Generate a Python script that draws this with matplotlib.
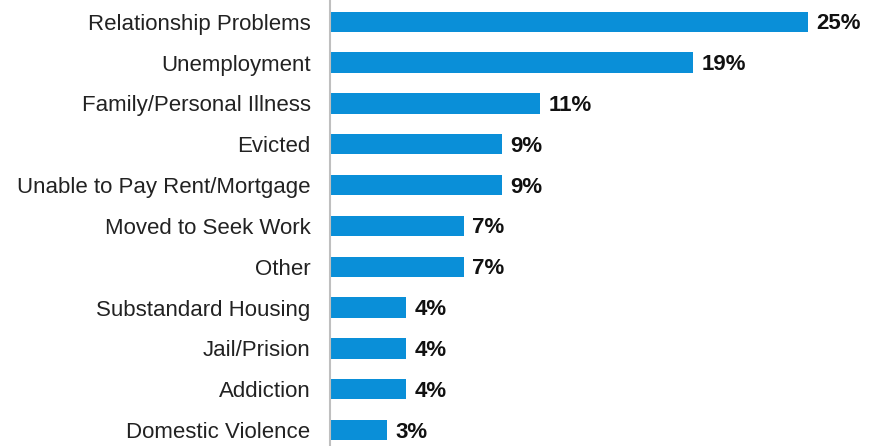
import matplotlib.pyplot as plt

categories = ['Relationship Problems', 'Unemployment', 'Family/Personal Illness',
              'Evicted', 'Unable to Pay Rent/Mortgage', 'Moved to Seek Work',
              'Other', 'Substandard Housing', 'Jail/Prision', 'Addiction',
              'Domestic Violence']
values = [25, 19, 11, 9, 9, 7, 7, 4, 4, 4, 3]
value_labels = ['25%', '19%', '11%', '9%', '9%', '7%', '7%', '4%', '4%', '4%', '3%']

W, H = 879, 446
fig = plt.figure(figsize=(W / 100, H / 100), dpi=100)
ax = fig.add_axes([330 / W, 0, (28 * 19.1) / W, 1 - 1.4 / H])

ypos = list(range(len(categories)))
ax.barh(ypos, values, height=0.5, color='#0a8fd8')
ax.set_xlim(0, 28)
ax.set_ylim(10.39, -0.5)

for y, v, lab in zip(ypos, values, value_labels):
    ax.text(v + 0.45, y + 0.05, lab, va='center', ha='left', fontsize=16,
            fontweight='bold', color='#111111', family='Liberation Sans')

ax.set_yticks(ypos)
ax.set_yticklabels(categories, fontsize=16, color='#222222', family='Liberation Sans')
ax.tick_params(axis='y', length=0, pad=14)
ax.set_xticks([])
for s in ['top', 'right', 'bottom']:
    ax.spines[s].set_visible(False)
ax.spines['left'].set_color('#bfbfbf')
ax.spines['left'].set_linewidth(1.5)

fig.savefig('out.png', dpi=100)
